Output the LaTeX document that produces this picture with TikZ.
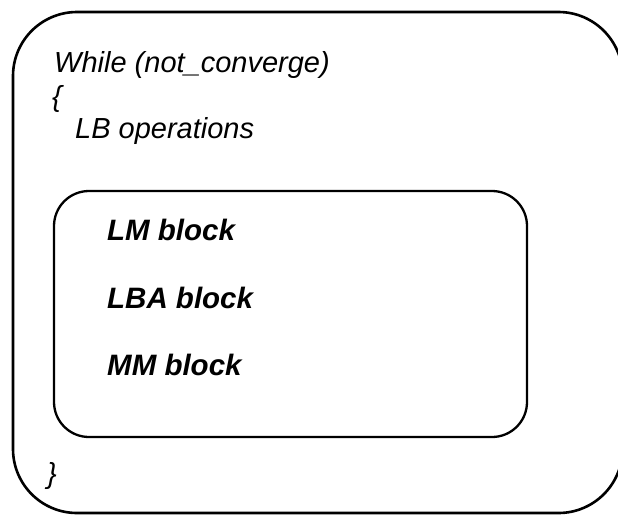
\documentclass[tikz,border=0pt]{standalone}
\usepackage{fontspec}
\setmainfont{Liberation Sans}
\tikzset{
  frame/.style={draw=black, line width=2.6pt, rounded corners=64pt},
  innerframe/.style={draw=black, line width=2.3pt, rounded corners=35pt},
  code/.style={anchor=base west, inner sep=0pt, font=\fontsize{29}{33}\selectfont\itshape},
  blocktxt/.style={anchor=base west, inner sep=0pt, font=\fontsize{29.5}{33}\selectfont\bfseries\itshape},
}
\begin{document}
\begin{tikzpicture}[x=1pt,y=-1pt]
\useasboundingbox (0,0) rectangle (618,515);
\fill[white] (0,0) rectangle (618,515);
\begin{scope}
\clip (0,0) rectangle (618,515);
\draw[frame] (13,12) rectangle (622.5,513);
\end{scope}
\draw[innerframe] (54,191) rectangle (527,437);
\node[code] (while) at (54,72) {While (not\_converge)};
\node[code] (open) at (52,106) {\{};
\node[code] (lbops) at (75,138) {LB operations};
\node[blocktxt] (lm) at (107,240) {LM block};
\node[blocktxt] (lba) at (107,308) {LBA block};
\node[blocktxt] (mm) at (107,375) {MM block};
\node[code] (close) at (47,483) {\}};
\end{tikzpicture}
\end{document}
